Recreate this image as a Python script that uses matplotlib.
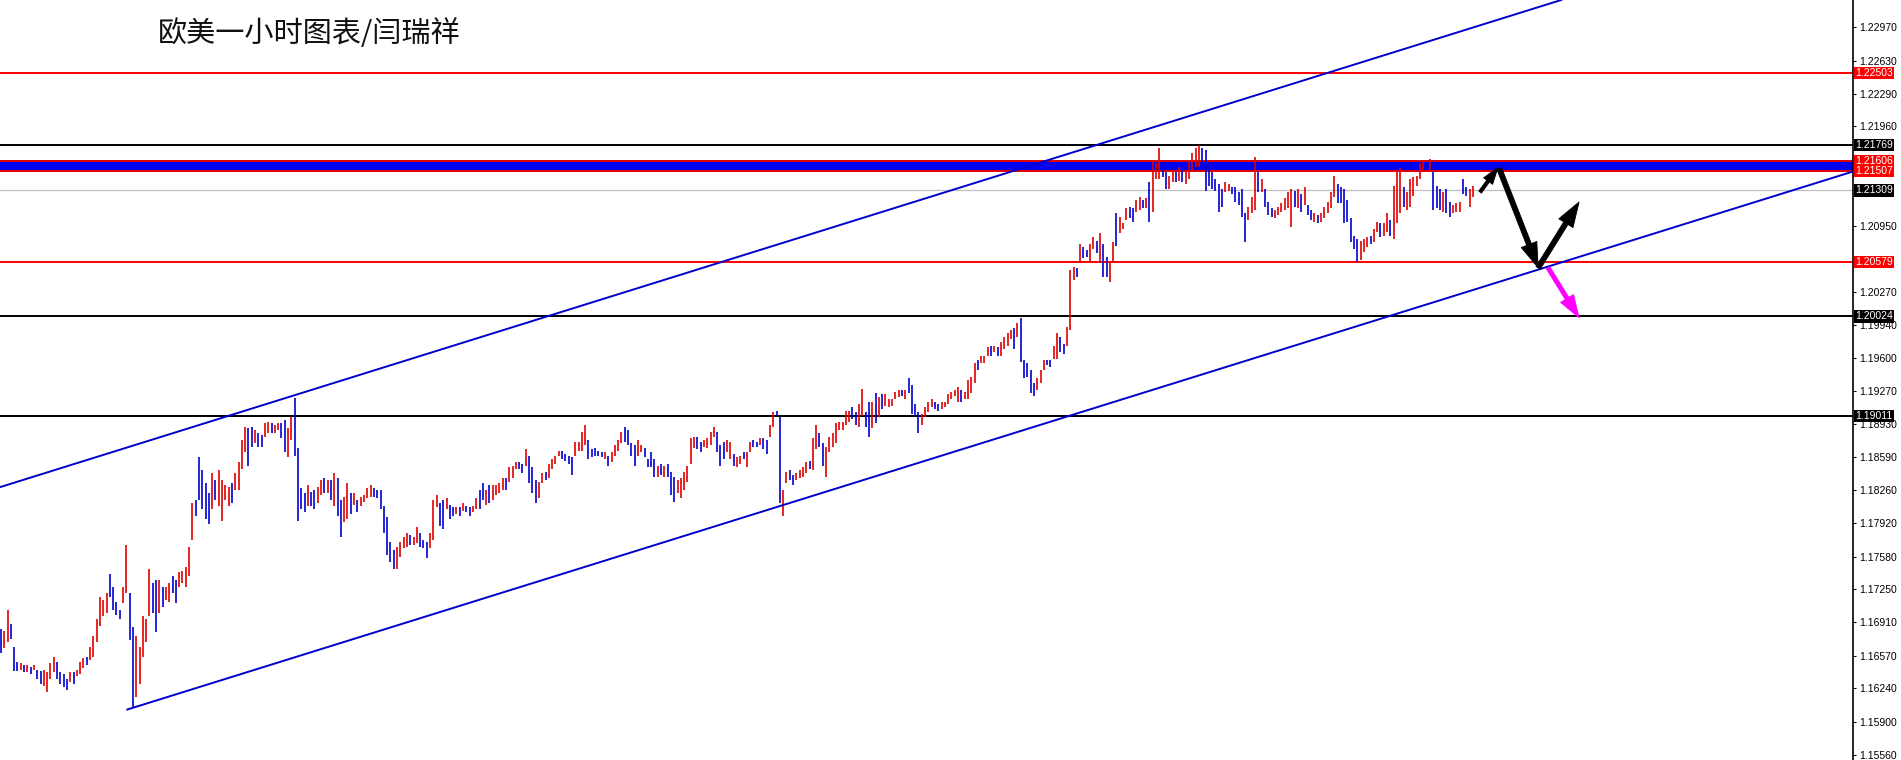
import matplotlib
matplotlib.use("Agg")
import matplotlib.pyplot as plt
from matplotlib.transforms import blended_transform_factory
import numpy as np

# EURUSD H1 bars, oldest first (high / low)
highs = [
    1.1684, 1.1682, 1.1704, 1.1689, 1.1666, 1.1651, 1.1650, 1.1648, 1.1648, 1.1646,
    1.1648, 1.1643, 1.1641, 1.1643, 1.1640, 1.1650, 1.1656, 1.1651, 1.1640, 1.1638,
    1.1633, 1.1640, 1.1640, 1.1643, 1.1651, 1.1655, 1.1656, 1.1666, 1.1677, 1.1694,
    1.1717, 1.1714, 1.1721, 1.1740, 1.1727, 1.1712, 1.1704, 1.1727, 1.1770, 1.1721,
    1.1686, 1.1677, 1.1666, 1.1697, 1.1694, 1.1745, 1.1731, 1.1734, 1.1734, 1.1727,
    1.1727, 1.1731, 1.1738, 1.1734, 1.1742, 1.1743, 1.1747, 1.1768, 1.1813, 1.1816,
    1.1859, 1.1846, 1.1833, 1.1823, 1.1843, 1.1836, 1.1846, 1.1836, 1.1831, 1.1829,
    1.1833, 1.1843, 1.1854, 1.1877, 1.1890, 1.1889, 1.1890, 1.1887, 1.1884, 1.1882,
    1.1894, 1.1895, 1.1894, 1.1892, 1.1894, 1.1894, 1.1897, 1.1889, 1.1900, 1.1919,
    1.1869, 1.1828, 1.1823, 1.1831, 1.1824, 1.1826, 1.1829, 1.1836, 1.1838, 1.1836,
    1.1836, 1.1843, 1.1838, 1.1816, 1.1819, 1.1833, 1.1823, 1.1823, 1.1816, 1.1819,
    1.1821, 1.1828, 1.1831, 1.1828, 1.1826, 1.1826, 1.1809, 1.1798, 1.1773, 1.1765,
    1.1768, 1.1773, 1.1778, 1.1782, 1.1780, 1.1778, 1.1788, 1.1782, 1.1775, 1.1773,
    1.1782, 1.1816, 1.1821, 1.1813, 1.1816, 1.1818, 1.1811, 1.1808, 1.1808, 1.1808,
    1.1813, 1.1809, 1.1808, 1.1809, 1.1818, 1.1826, 1.1833, 1.1826, 1.1831, 1.1831,
    1.1831, 1.1833, 1.1838, 1.1838, 1.1849, 1.1850, 1.1854, 1.1854, 1.1852, 1.1868,
    1.1860, 1.1849, 1.1836, 1.1834, 1.1843, 1.1844, 1.1852, 1.1857, 1.1860, 1.1865,
    1.1865, 1.1862, 1.1860, 1.1859, 1.1875, 1.1875, 1.1885, 1.1892, 1.1877, 1.1867,
    1.1869, 1.1865, 1.1864, 1.1864, 1.1860, 1.1864, 1.1872, 1.1877, 1.1885, 1.1890,
    1.1887, 1.1874, 1.1872, 1.1877, 1.1872, 1.1869, 1.1857, 1.1864, 1.1857, 1.1850,
    1.1852, 1.1850, 1.1852, 1.1844, 1.1839, 1.1836, 1.1838, 1.1844, 1.1850, 1.1879,
    1.1880, 1.1880, 1.1875, 1.1877, 1.1879, 1.1885, 1.1890, 1.1885, 1.1872, 1.1875,
    1.1877, 1.1875, 1.1862, 1.1859, 1.1860, 1.1864, 1.1864, 1.1875, 1.1877, 1.1875,
    1.1879, 1.1879, 1.1877, 1.1892, 1.1905, 1.1906, 1.1900, 1.1826, 1.1844, 1.1846,
    1.1841, 1.1843, 1.1846, 1.1849, 1.1854, 1.1855, 1.1879, 1.1892, 1.1884, 1.1874,
    1.1870, 1.1880, 1.1884, 1.1894, 1.1895, 1.1895, 1.1906, 1.1906, 1.1910, 1.1905,
    1.1913, 1.1929, 1.1905, 1.1915, 1.1915, 1.1925, 1.1920, 1.1923, 1.1923, 1.1918,
    1.1918, 1.1926, 1.1928, 1.1928, 1.1928, 1.1940, 1.1933, 1.1913, 1.1905, 1.1903,
    1.1910, 1.1915, 1.1918, 1.1915, 1.1913, 1.1915, 1.1915, 1.1923, 1.1926, 1.1928,
    1.1931, 1.1928, 1.1926, 1.1938, 1.1941, 1.1955, 1.1958, 1.1962, 1.1962, 1.1971,
    1.1972, 1.1972, 1.1971, 1.1976, 1.1982, 1.1986, 1.1989, 1.1991, 1.1996, 1.2001,
    1.1958, 1.1955, 1.1948, 1.1935, 1.1940, 1.1948, 1.1958, 1.1958, 1.1958, 1.1972,
    1.1986, 1.1982, 1.1974, 1.1992, 1.2050, 1.2053, 1.2052, 1.2076, 1.2073, 1.2070,
    1.2076, 1.2083, 1.2079, 1.2087, 1.2076, 1.2063, 1.2058, 1.2078, 1.2108, 1.2104,
    1.2098, 1.2113, 1.2114, 1.2113, 1.2121, 1.2124, 1.2121, 1.2123, 1.2139, 1.2160,
    1.2159, 1.2174, 1.2160, 1.2150, 1.2145, 1.2152, 1.2149, 1.2155, 1.2152, 1.2149,
    1.2160, 1.2169, 1.2174, 1.2177, 1.2174, 1.2172, 1.2159, 1.2149, 1.2142, 1.2137,
    1.2132, 1.2139, 1.2137, 1.2134, 1.2134, 1.2129, 1.2132, 1.2108, 1.2114, 1.2124,
    1.2165, 1.2149, 1.2142, 1.2132, 1.2119, 1.2113, 1.2111, 1.2114, 1.2118, 1.2123,
    1.2129, 1.2132, 1.2130, 1.2132, 1.2127, 1.2134, 1.2116, 1.2111, 1.2108, 1.2106,
    1.2108, 1.2114, 1.2119, 1.2129, 1.2145, 1.2137, 1.2134, 1.2132, 1.2121, 1.2103,
    1.2084, 1.2081, 1.2079, 1.2081, 1.2083, 1.2084, 1.2091, 1.2099, 1.2098, 1.2098,
    1.2108, 1.2101, 1.2135, 1.2152, 1.2154, 1.2134, 1.2129, 1.2142, 1.2144, 1.2145,
    1.2159, 1.2160, 1.2160, 1.2163, 1.2150, 1.2135, 1.2132, 1.2129, 1.2132, 1.2119,
    1.2116, 1.2118, 1.2119, 1.2142, 1.2134, 1.2132, 1.2135,
]
lows = [
    1.1660, 1.1665, 1.1671, 1.1674, 1.1641, 1.1641, 1.1643, 1.1640, 1.1640, 1.1638,
    1.1643, 1.1633, 1.1628, 1.1626, 1.1620, 1.1633, 1.1640, 1.1633, 1.1628, 1.1625,
    1.1622, 1.1630, 1.1628, 1.1636, 1.1638, 1.1645, 1.1648, 1.1653, 1.1656, 1.1671,
    1.1687, 1.1697, 1.1701, 1.1717, 1.1704, 1.1699, 1.1694, 1.1711, 1.1721, 1.1673,
    1.1604, 1.1615, 1.1628, 1.1656, 1.1671, 1.1697, 1.1701, 1.1681, 1.1701, 1.1707,
    1.1714, 1.1712, 1.1721, 1.1711, 1.1727, 1.1731, 1.1727, 1.1738, 1.1775, 1.1799,
    1.1816, 1.1806, 1.1796, 1.1791, 1.1806, 1.1816, 1.1809, 1.1794, 1.1816, 1.1809,
    1.1813, 1.1826, 1.1826, 1.1847, 1.1864, 1.1850, 1.1870, 1.1874, 1.1870, 1.1870,
    1.1880, 1.1884, 1.1884, 1.1884, 1.1887, 1.1879, 1.1864, 1.1859, 1.1877, 1.1860,
    1.1794, 1.1806, 1.1803, 1.1809, 1.1809, 1.1806, 1.1813, 1.1821, 1.1823, 1.1823,
    1.1816, 1.1809, 1.1799, 1.1778, 1.1793, 1.1796, 1.1801, 1.1811, 1.1803, 1.1809,
    1.1814, 1.1818, 1.1819, 1.1819, 1.1818, 1.1806, 1.1782, 1.1760, 1.1752, 1.1745,
    1.1745, 1.1758, 1.1767, 1.1768, 1.1770, 1.1770, 1.1772, 1.1768, 1.1767, 1.1757,
    1.1767, 1.1775, 1.1808, 1.1789, 1.1786, 1.1806, 1.1796, 1.1799, 1.1801, 1.1799,
    1.1804, 1.1803, 1.1799, 1.1803, 1.1806, 1.1806, 1.1816, 1.1811, 1.1813, 1.1816,
    1.1821, 1.1823, 1.1826, 1.1826, 1.1834, 1.1838, 1.1847, 1.1847, 1.1843, 1.1850,
    1.1833, 1.1823, 1.1813, 1.1818, 1.1833, 1.1836, 1.1838, 1.1847, 1.1852, 1.1860,
    1.1857, 1.1855, 1.1852, 1.1841, 1.1860, 1.1865, 1.1865, 1.1872, 1.1857, 1.1859,
    1.1860, 1.1860, 1.1859, 1.1857, 1.1850, 1.1854, 1.1860, 1.1865, 1.1874, 1.1875,
    1.1872, 1.1860, 1.1850, 1.1860, 1.1864, 1.1859, 1.1849, 1.1849, 1.1839, 1.1839,
    1.1841, 1.1839, 1.1839, 1.1821, 1.1814, 1.1823, 1.1818, 1.1826, 1.1834, 1.1852,
    1.1869, 1.1867, 1.1864, 1.1870, 1.1869, 1.1872, 1.1880, 1.1864, 1.1850, 1.1857,
    1.1864, 1.1857, 1.1850, 1.1849, 1.1852, 1.1857, 1.1849, 1.1864, 1.1870, 1.1870,
    1.1872, 1.1867, 1.1862, 1.1880, 1.1890, 1.1901, 1.1813, 1.1799, 1.1833, 1.1836,
    1.1831, 1.1836, 1.1838, 1.1839, 1.1843, 1.1847, 1.1846, 1.1867, 1.1870, 1.1850,
    1.1839, 1.1864, 1.1870, 1.1874, 1.1887, 1.1887, 1.1892, 1.1895, 1.1898, 1.1892,
    1.1890, 1.1901, 1.1890, 1.1880, 1.1889, 1.1894, 1.1900, 1.1908, 1.1911, 1.1910,
    1.1911, 1.1918, 1.1920, 1.1921, 1.1918, 1.1925, 1.1903, 1.1901, 1.1884, 1.1892,
    1.1900, 1.1905, 1.1910, 1.1908, 1.1906, 1.1908, 1.1910, 1.1913, 1.1918, 1.1921,
    1.1915, 1.1915, 1.1918, 1.1918, 1.1925, 1.1935, 1.1948, 1.1955, 1.1955, 1.1962,
    1.1962, 1.1966, 1.1962, 1.1962, 1.1969, 1.1972, 1.1979, 1.1969, 1.1982, 1.1956,
    1.1940, 1.1941, 1.1925, 1.1921, 1.1928, 1.1935, 1.1948, 1.1953, 1.1951, 1.1959,
    1.1959, 1.1966, 1.1964, 1.1972, 1.1989, 1.2040, 1.2043, 1.2057, 1.2062, 1.2063,
    1.2058, 1.2071, 1.2067, 1.2057, 1.2043, 1.2043, 1.2038, 1.2057, 1.2074, 1.2087,
    1.2091, 1.2101, 1.2103, 1.2099, 1.2109, 1.2111, 1.2113, 1.2113, 1.2099, 1.2109,
    1.2142, 1.2142, 1.2144, 1.2132, 1.2132, 1.2139, 1.2139, 1.2140, 1.2139, 1.2137,
    1.2142, 1.2152, 1.2155, 1.2155, 1.2159, 1.2130, 1.2135, 1.2132, 1.2130, 1.2109,
    1.2114, 1.2129, 1.2130, 1.2127, 1.2119, 1.2116, 1.2104, 1.2078, 1.2101, 1.2108,
    1.2111, 1.2129, 1.2129, 1.2114, 1.2106, 1.2104, 1.2103, 1.2106, 1.2109, 1.2111,
    1.2113, 1.2093, 1.2114, 1.2113, 1.2109, 1.2116, 1.2106, 1.2101, 1.2099, 1.2098,
    1.2099, 1.2103, 1.2108, 1.2113, 1.2124, 1.2118, 1.2118, 1.2098, 1.2099, 1.2078,
    1.2071, 1.2058, 1.2060, 1.2068, 1.2073, 1.2076, 1.2078, 1.2088, 1.2083, 1.2084,
    1.2088, 1.2084, 1.2081, 1.2098, 1.2108, 1.2114, 1.2111, 1.2114, 1.2125, 1.2135,
    1.2142, 1.2150, 1.2152, 1.2150, 1.2111, 1.2113, 1.2111, 1.2109, 1.2108, 1.2104,
    1.2108, 1.2109, 1.2109, 1.2127, 1.2125, 1.2114, 1.2124,
]
# u = bullish bar (red), d = bearish bar (blue)
bar_dir = (
    "duudddudud" "udduuuuddd" "duduuuduuu" "uuudddduud" "duuuuuddud"
    "uudduuuuud" "dddduduuuu" "duuuuddudd" "uuduudduud" "dddudduudu"
    "dudduududu" "uuuddddddd" "uuuuduuddd" "uuudduddud" "udduuddudu"
    "uuuduuuddu" "ddduuduuuu" "dddduuuudd" "ddduduuuud" "ddduuddddu"
    "duddduuuuu" "udduuuuddd" "uuduuduudd" "udduudduud" "duuuuduudd"
    "uuuuuuuudd" "uuddududuu" "uuududdddu" "uuudduuuuu" "uduuuuduuu"
    "duduuuudud" "dddduuuddu" "udduuududd" "uududduudu" "uudduududu"
    "uudduududu" "uuuudddddd" "duuddddduu" "ududdduuuu" "uudududdud"
    "uuuuuddddd" "dduuuduudu" "uduuuduuuu" "uududddudd" "uuudduu"
)

# horizontal levels drawn on the chart
red_levels = [1.22503, 1.20579]
black_levels = [1.21769, 1.20024, 1.19011]
band_levels = [1.21507, 1.21606]
last_price = 1.21309

# trend channel, anchor points as (bar number, price)
upper_channel = [(0, 1.1829), (290, 1.2133)]
lower_channel = [(38, 1.1602), (561.2, 1.2150)]

# drawn arrows (bar number, price) -> (bar number, price)
black_arrows = [
    ((448.2, 1.2129), (453.6, 1.2154)),
    ((454.0, 1.2153), (465.8, 1.2052)),
    ((465.8, 1.2052), (478.2, 1.2119)),
]
pink_arrow = ((468.8, 1.2052), (478.2, 1.2001))

tick_values = [1.22970, 1.22630, 1.22290, 1.21960, 1.20950, 1.20270, 1.19940,
               1.19600, 1.19270, 1.18930, 1.18590, 1.18260, 1.17920, 1.17580,
               1.17250, 1.16910, 1.16570, 1.16240, 1.15900, 1.15560]
red_tags = [1.22503, 1.21606, 1.21507, 1.20579]
black_tags = [1.21769, 1.21309, 1.20024, 1.19011]

title = "欧美一小时图表/闫瑞祥"

plt.rcParams['font.family'] = ['Liberation Sans', 'DejaVu Sans']

fig = plt.figure(figsize=(19.01, 7.60), dpi=100)
ax = fig.add_axes([0, 0, 1853 / 1901, 1])
ax.set_xlim(-0.3, 561.2)
ax.set_ylim(1.15509, 1.23246)

# levels
ax.axhspan(band_levels[0], band_levels[1], color='#0000f0', lw=0, zorder=1)
for lv in band_levels:
    ax.axhline(lv, color='#e00000', lw=1.4, zorder=1.2)
for lv in red_levels:
    ax.axhline(lv, color='#ff0000', lw=1.4, zorder=1.2)
for lv in black_levels:
    ax.axhline(lv, color='black', lw=1.4, zorder=1.2)
ax.axhline(last_price, color='#c0c0c0', lw=0.9, zorder=1.1)

# price bars
x = np.arange(len(highs))
cols = ['#e00000' if d == 'u' else '#0000d0' for d in bar_dir]
ax.vlines(x, lows, highs, colors=cols, lw=1.2, zorder=2)

# channel
ax.axline(upper_channel[0], upper_channel[1], color='#0000cc', lw=1.4, zorder=3)
ax.plot([p[0] for p in lower_channel], [p[1] for p in lower_channel],
        color='#0000cc', lw=1.4, zorder=3, solid_capstyle='butt')

# arrows
for (x0, y0), (x1, y1) in black_arrows:
    ms = 8 if x0 < 450 else 12
    ax.annotate('', xy=(x1, y1), xytext=(x0, y0),
                arrowprops=dict(arrowstyle='simple,head_length=1.5,head_width=1.0,tail_width=0.3',
                                fc='black', ec='black', lw=0.6,
                                shrinkA=0, shrinkB=0, mutation_scale=ms),
                zorder=4)
ax.annotate('', xy=pink_arrow[1], xytext=pink_arrow[0],
            arrowprops=dict(arrowstyle='simple,head_length=1.5,head_width=1.0,tail_width=0.28',
                            fc='#ff00ff', ec='#ff00ff', lw=0.5,
                            shrinkA=0, shrinkB=0, mutation_scale=11),
            zorder=4)

# right price scale
for s in ['top', 'left', 'bottom']:
    ax.spines[s].set_visible(False)
ax.spines['right'].set_linewidth(1.2)
ax.set_xticks([])
ax.yaxis.tick_right()
ax.set_yticks(tick_values)
ax.set_yticklabels([f"{v:.5f}" for v in tick_values])
ax.tick_params(axis='y', direction='out', length=2.5, width=0.8, pad=2,
               labelsize=7.5, colors='black')

trans = blended_transform_factory(ax.transAxes, ax.transData)
for v in red_tags:
    ax.text(1.0012, v, f"{v:.5f}", transform=trans, ha='left', va='center',
            fontsize=7.5, color='white', clip_on=False, zorder=6,
            bbox=dict(boxstyle='square,pad=0.12', fc='#ff0000', ec='none'))
for v in black_tags:
    ax.text(1.0012, v, f"{v:.5f}", transform=trans, ha='left', va='center',
            fontsize=7.5, color='white', clip_on=False, zorder=6,
            bbox=dict(boxstyle='square,pad=0.12', fc='black', ec='none'))

fig.text(158 / 1901, 1 - 34 / 760, title, ha='left', va='center',
         fontsize=21, family=['Noto Sans CJK SC', 'DejaVu Sans'], color='#111111')

fig.savefig('out.png', dpi=100)
